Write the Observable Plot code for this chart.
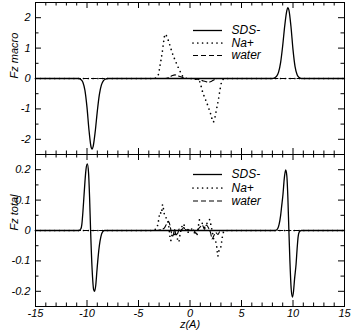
<!DOCTYPE html>
<html>
<head>
<meta charset="utf-8">
<script src="https://cdn.jsdelivr.net/npm/d3@7"></script>
<script src="https://cdn.jsdelivr.net/npm/@observablehq/plot@0.6"></script>
<style>
  html, body { margin: 0; padding: 0; background: #fff; }
  #chart svg { display: block; }
</style>
</head>
<body>
<div id="chart"></div>
<script>
// ---------- data ----------
const xTicks = [-15, -10, -5, 0, 5, 10, 15];
const yTicksTop = [-2, -1, 0, 1, 2];
const yTicksBottom = [-0.2, -0.1, 0, 0.1, 0.2];
const yLabelTop = "Fz macro";
const yLabelBottom = "Fz total";
const xLabel = "z(A)";
const seriesNames = ["SDS-", "Na+", "water"];

// top panel: Fz macro
const sdsMacroZ = [-15, -10.8, -10.6, -10.4, -10.2, -10.0, -9.8, -9.6, -9.5, -9.4, -9.2, -9.0, -8.8, -8.6, -8.4, -8.2, -8.0,
  8.0, 8.2, 8.4, 8.6, 8.8, 9.0, 9.2, 9.4, 9.5, 9.6, 9.8, 10.0, 10.2, 10.4, 10.6, 10.8, 15];
const sdsMacroF = [0, 0, -0.03, -0.12, -0.39, -0.95, -1.72, -2.26, -2.32, -2.23, -1.74, -1.08, -0.53, -0.21, -0.07, -0.02, 0,
  0, 0.02, 0.07, 0.21, 0.53, 1.08, 1.74, 2.23, 2.33, 2.26, 1.72, 0.95, 0.39, 0.12, 0.03, 0, 0];

const naMacroZ = [-15, -3.6, -3.4, -3.2, -3.07, -2.9, -2.7, -2.55, -2.42, -2.25, -2.1, -1.94, -1.74, -1.48, -1.23, -0.97, -0.7, -0.4, 0,
  0.4, 0.7, 0.97, 1.16, 1.39, 1.61, 1.84, 2.03, 2.26, 2.42, 2.58, 2.74, 2.9, 3.06, 3.25, 3.45, 15];
const naMacroF = [0, 0, 0.01, 0.04, 0.13, 0.45, 0.85, 1.23, 1.46, 1.38, 1.25, 1.08, 0.86, 0.63, 0.43, 0.24, 0.07, 0.01, 0,
  -0.01, -0.04, -0.12, -0.37, -0.6, -0.78, -1.0, -1.19, -1.43, -1.28, -1.0, -0.73, -0.4, -0.12, -0.02, 0, 0];

const waterMacroZ = [-15, -2.4, -2.0, -1.7, -1.45, -1.2, -0.9, -0.6, -0.3, 0.3, 0.6, 0.9, 1.2, 1.5, 1.8, 2.1, 2.4, 2.7, 15];
const waterMacroF = [0, 0, 0.04, 0.1, 0.12, 0.09, 0.06, 0.02, 0, 0, -0.02, -0.04, -0.07, -0.1, -0.12, -0.09, -0.03, 0, 0];

// bottom panel: Fz total
const sdsTotalZ = [-15, -10.8, -10.6, -10.5, -10.4, -10.3, -10.2, -10.1, -9.97, -9.85, -9.75, -9.65, -9.5, -9.35, -9.26, -9.15, -9.03, -8.9, -8.8, -8.65, -8.5, -8.3,
  8.3, 8.5, 8.65, 8.8, 8.9, 9.03, 9.15, 9.29, 9.4, 9.5, 9.6, 9.7, 9.82, 9.94, 10.05, 10.15, 10.3, 10.4, 10.5, 10.6, 10.8, 15];
const sdsTotalF = [0, 0, 0.005, 0.02, 0.06, 0.11, 0.16, 0.2, 0.219, 0.19, 0.11, 0.0, -0.13, -0.195, -0.2, -0.18, -0.13, -0.08, -0.05, -0.02, -0.005, 0,
  0, 0.005, 0.02, 0.05, 0.08, 0.12, 0.17, 0.199, 0.18, 0.11, 0.0, -0.1, -0.19, -0.219, -0.2, -0.16, -0.11, -0.06, -0.02, -0.005, 0, 0];

const naTotalZ = [-15, -3.6, -3.4, -3.22, -3.07, -2.9, -2.78, -2.66, -2.52, -2.4, -2.26, -2.12, -2.0, -1.87, -1.7, -1.55, -1.4, -1.29, -1.1, -0.95, -0.8, -0.65, -0.45, -0.25, -0.05,
  0.2, 0.45, 0.65, 0.8, 0.92, 1.1, 1.29, 1.45, 1.55, 1.75, 1.9, 2.05, 2.2, 2.32, 2.48, 2.6, 2.7, 2.84, 2.95, 3.07, 3.2, 3.4, 15];
const naTotalF = [0, 0, 0.003, 0.008, 0.03, 0.06, 0.055, 0.085, 0.058, 0.045, 0.04, 0.03, -0.005, -0.033, -0.01, -0.014, -0.005, -0.018, -0.038, -0.01, 0.011, 0.022, 0.005, -0.008, 0.002,
  0.005, -0.008, -0.016, 0.01, 0.035, 0.025, 0.022, 0.01, 0.016, 0.03, 0.036, 0.015, -0.01, -0.03, -0.035, -0.055, -0.084, -0.063, -0.06, -0.038, -0.01, 0, 0];

const waterTotalZ = [-15, -3.2, -2.8, -2.5, -2.3, -2.1, -1.95, -1.8, -1.65, -1.5, -1.35, -1.2, -1.0, -0.8, -0.6, -0.4, -0.2, 0, 0.2, 0.4, 0.6, 0.8, 1.0, 1.2, 1.4, 1.6, 1.8, 2.0, 2.15, 2.3, 2.5, 2.7, 2.9, 3.2, 15];
const waterTotalF = [0, 0, 0.003, 0.008, 0.02, 0.03, 0.018, -0.008, -0.018, 0.004, -0.016, -0.01, 0.008, 0.003, 0.01, 0, 0.004, 0, 0.003, 0, -0.01, 0.004, 0.012, 0.018, 0.004, 0.018, 0.008, -0.008, -0.028, -0.018, -0.007, -0.013, -0.003, 0, 0];

// ---------- layout ----------
const W = 353, ML = 35, MR = 9;
const xDomain = [-15, 15];
const innerW = W - ML - MR;
const majorLen = 6, minorLen = 3.5;
const xMinor = d3.range(-15, 16).filter(v => v % 5 !== 0);

const styleSDS = {stroke: "black", strokeWidth: 1.3};
const styleNa = {stroke: "black", strokeWidth: 1.7, strokeDasharray: "0,4.8", strokeLinecap: "round"};
const styleWater = {stroke: "black", strokeWidth: 1.1, strokeDasharray: "5,3"};
const seriesStyles = [styleSDS, styleNa, styleWater];

const zip = (zs, fs) => zs.map((z, i) => ({z, f: fs[i]}));
const fmt = d => String(d);

function panel({height, mt, mb, yDomain, yMajor, yMinor, yLabel, series, legendRows, bottomAxis}) {
  const innerH = height - mt - mb;
  const px2x = p => xDomain[0] + (p - ML) / innerW * (xDomain[1] - xDomain[0]);
  const px2y = p => yDomain[1] - (p - mt) / innerH * (yDomain[1] - yDomain[0]);
  const legX1 = px2x(193), legX2 = px2x(222);
  const legendData = seriesNames.map((name, i) => ({name, y: px2y(legendRows[i]), i}));
  const marks = [
    Plot.tickX(xTicks, {x: d => d, insetTop: innerH - majorLen}),
    Plot.tickX(xTicks, {x: d => d, insetBottom: innerH - majorLen}),
    Plot.tickX(xMinor, {x: d => d, insetTop: innerH - minorLen}),
    Plot.tickX(xMinor, {x: d => d, insetBottom: innerH - minorLen}),
    Plot.tickY(yMajor, {y: d => d, insetRight: innerW - majorLen}),
    Plot.tickY(yMajor, {y: d => d, insetLeft: innerW - majorLen}),
    Plot.tickY(yMinor, {y: d => d, insetRight: innerW - minorLen}),
    Plot.tickY(yMinor, {y: d => d, insetLeft: innerW - minorLen}),
    Plot.text(yMajor, {y: d => d, text: fmt, frameAnchor: "left", dx: -5, textAnchor: "end", fontSize: 11}),
    Plot.text([yLabel], {text: d => d, frameAnchor: "left", dx: -21, rotate: -90, fontSize: 11}),
    ...series.map((s, i) => Plot.line(s, {x: "z", y: "f", curve: "monotone-x", ...seriesStyles[i]})),
    ...legendData.map(d => Plot.ruleY([d], {y: "y", x1: legX1, x2: legX2, ...seriesStyles[d.i]})),
    Plot.text(legendData, {x: px2x(231), y: "y", text: "name", textAnchor: "start", fontSize: 12}),
    Plot.frame({stroke: "black", strokeWidth: 1})
  ];
  if (bottomAxis) {
    marks.push(Plot.text(xTicks, {x: d => d, text: fmt, frameAnchor: "bottom", dy: 10, fontSize: 11}));
    marks.push(Plot.text([xLabel], {text: d => d, frameAnchor: "bottom", dy: 21, fontSize: 11}));
  }
  return Plot.plot({
    width: W, height,
    marginLeft: ML, marginRight: MR, marginTop: mt, marginBottom: mb,
    x: {domain: xDomain, axis: null},
    y: {domain: yDomain, axis: null},
    style: {fontFamily: "'Liberation Sans', Arial, sans-serif", fontStyle: "italic", fontSize: "11px", background: "white", color: "black"},
    marks
  });
}

const topPlot = panel({
  height: 154, mt: 2, mb: 0,
  yDomain: [-2.5, 2.5], yMajor: yTicksTop, yMinor: [-1.5, -0.5, 0.5, 1.5],
  yLabel: yLabelTop,
  series: [zip(sdsMacroZ, sdsMacroF), zip(naMacroZ, naMacroF), zip(waterMacroZ, waterMacroF)],
  legendRows: [30, 42.5, 55],
  bottomAxis: false
});
const bottomPlot = panel({
  height: 179, mt: 0, mb: 27,
  yDomain: [-0.25, 0.25], yMajor: yTicksBottom, yMinor: [-0.15, -0.05, 0.05, 0.15],
  yLabel: yLabelBottom,
  series: [zip(sdsTotalZ, sdsTotalF), zip(naTotalZ, naTotalF), zip(waterTotalZ, waterTotalF)],
  legendRows: [20, 33.5, 46.5],
  bottomAxis: true
});
document.getElementById("chart").append(topPlot, bottomPlot);
</script>
</body>
</html>
